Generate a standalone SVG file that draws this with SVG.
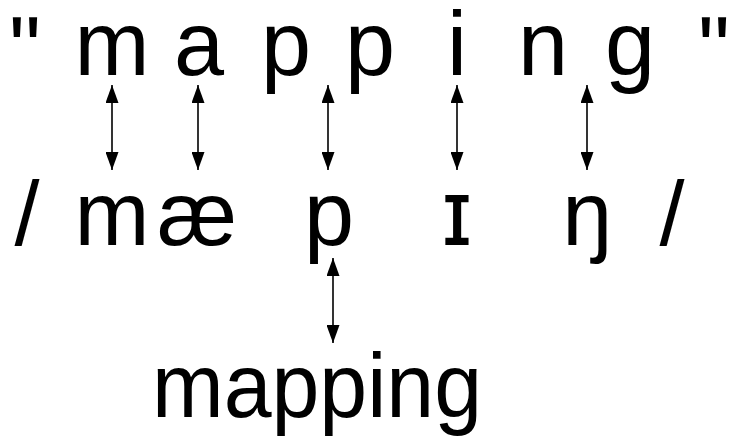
<svg xmlns="http://www.w3.org/2000/svg" width="730" height="442" viewBox="0 0 730 442">
<style>
text{font-family:"Liberation Sans","DejaVu Sans",sans-serif;font-size:90px;fill:#000;text-anchor:middle}
.c{stroke:#000;stroke-width:1.6;fill:none;marker-start:url(#h);marker-end:url(#h)}
</style>
<defs>
<marker id="h" viewBox="0 0 18 13" refX="18" refY="6.5" markerWidth="18" markerHeight="13" markerUnits="userSpaceOnUse" orient="auto-start-reverse">
<path d="M0,0 L18,6.5 L0,13 Z" fill="#000"/>
</marker>
</defs>
<rect width="730" height="442" fill="#fff"/>
<g id="spelling">
<text x="25" y="80">"</text>
<text x="112" y="75">m</text>
<text x="199" y="75">a</text>
<text x="286" y="75">p</text>
<text x="370" y="75">p</text>
<text x="457" y="75">i</text>
<text x="543" y="75">n</text>
<text x="630" y="75">g</text>
<text x="714" y="80">"</text>
</g>
<g id="phonemes">
<text x="27" y="245">/</text>
<text x="112" y="245">m</text>
<text x="197" y="245">æ</text>
<text x="329" y="245">p</text>
<text x="457" y="245" style="font-family:'DejaVu Sans',sans-serif">ɪ</text>
<text x="587" y="245">ŋ</text>
<text x="672" y="245">/</text>
</g>
<g id="word">
<text x="317" y="417" textLength="330" lengthAdjust="spacingAndGlyphs">mapping</text>
</g>
<g id="connectors">
<line class="c" x1="112" y1="85" x2="112" y2="170"/>
<line class="c" x1="198" y1="85" x2="198" y2="170"/>
<line class="c" x1="328" y1="85" x2="328" y2="170"/>
<line class="c" x1="457" y1="85" x2="457" y2="170"/>
<line class="c" x1="587" y1="85" x2="587" y2="170"/>
<line class="c" x1="333" y1="258" x2="333" y2="343"/>
</g>
</svg>
